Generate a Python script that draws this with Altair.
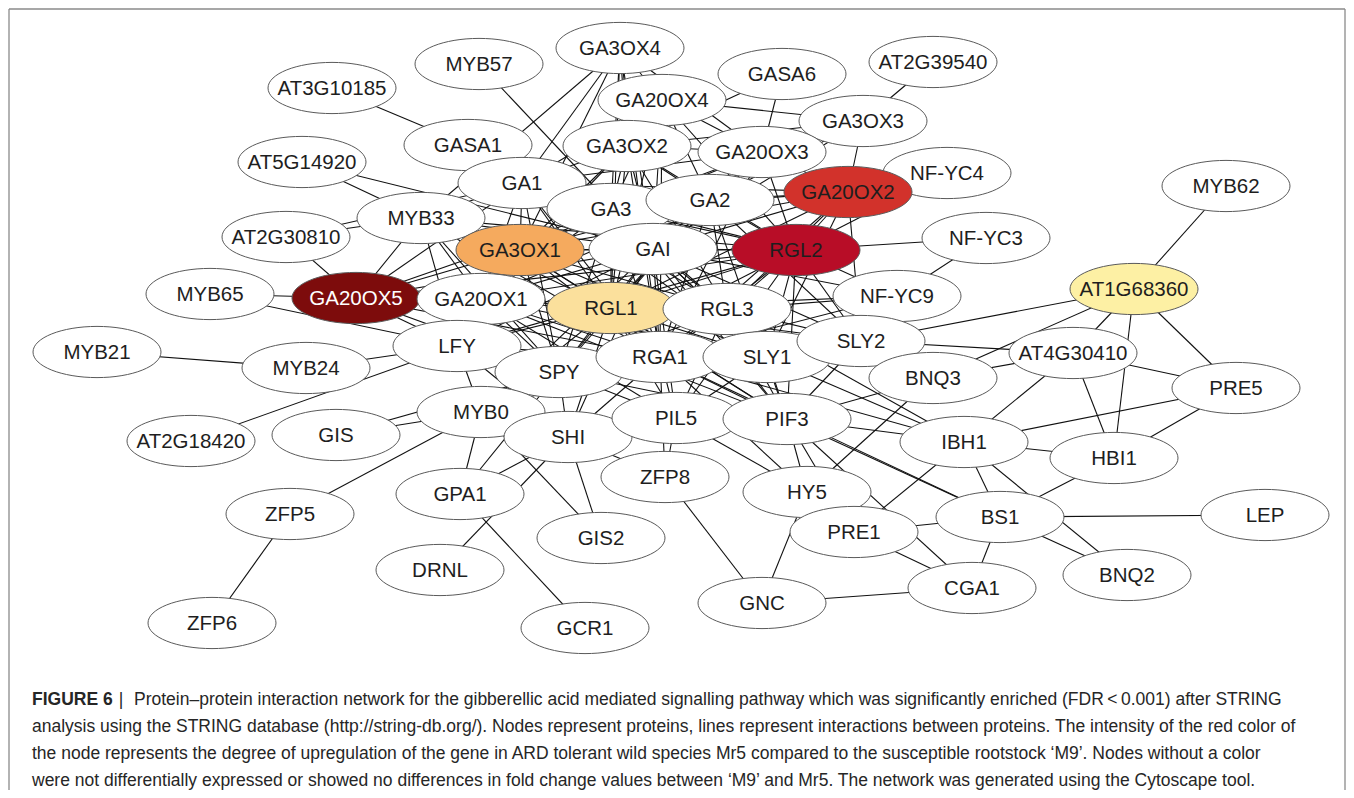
import altair as alt
import pandas as pd

# ---------------- data ----------------
NODE_NAMES = [
    "GA3OX4", "MYB57", "AT3G10185", "GASA6", "AT2G39540", "GA20OX4", "GA3OX3",
    "GASA1", "GA3OX2", "GA20OX3", "AT5G14920", "NF-YC4", "MYB62", "GA1", "GA3",
    "GA2", "GA20OX2", "MYB33", "AT2G30810", "GA3OX1", "GAI", "RGL2", "NF-YC3",
    "MYB65", "GA20OX5", "GA20OX1", "RGL1", "RGL3", "NF-YC9", "AT1G68360",
    "MYB21", "LFY", "MYB24", "SPY", "RGA1", "SLY1", "SLY2", "AT4G30410", "BNQ3",
    "PRE5", "AT2G18420", "GIS", "MYB0", "SHI", "PIL5", "PIF3", "IBH1", "HBI1",
    "GPA1", "ZFP8", "HY5", "ZFP5", "BS1", "LEP", "PRE1", "GIS2", "DRNL", "BNQ2",
    "CGA1", "GNC", "ZFP6", "GCR1",
]
NODE_X = [
    620, 479, 332, 782, 933, 662, 863,
    468, 627, 762, 302, 947, 1226, 522, 611,
    710, 848, 421, 286, 520, 653, 796, 986,
    210, 356, 481, 611, 727, 897, 1134,
    97, 457, 306, 559, 660, 767, 861, 1073, 933,
    1236, 191, 336, 481, 568, 676, 787, 964, 1114,
    460, 665, 807, 290, 1000, 1265, 854, 601, 440, 1127,
    972, 762, 212, 585,
]
NODE_Y = [
    48, 64, 88, 74, 62, 100, 121,
    145, 146, 152, 162, 173, 186, 183, 209,
    200, 192, 218, 237, 250, 249, 250, 238,
    294, 298, 299, 308, 309, 296, 289,
    352, 346, 368, 372, 357, 357, 341, 353, 378,
    388, 441, 435, 412, 437, 418, 419, 442, 458,
    494, 477, 492, 514, 517, 515, 532, 538, 570, 575,
    588, 603, 623, 628,
]
# up-regulated nodes (others are white)
HIGHLIGHT_FILL = {
    "GA20OX5": "#7d0c0c",
    "RGL2": "#b80d27",
    "GA20OX2": "#d2322b",
    "GA3OX1": "#f5aa5e",
    "RGL1": "#fbe09c",
    "AT1G68360": "#fdf0a4",
}
LIGHT_TEXT = ["GA20OX5"]

# interactions (adjacency lists)
ADJ = {
    "AT3G10185": ["GASA1"],
    "MYB57": ["GAI"],
    "GASA1": ["GA1", "GA3"],
    "GA3OX4": ["GA1", "GA3OX1", "MYB33", "GA20OX4", "GA3OX2", "GA3", "GAI", "RGL1", "GA20OX3", "RGA1"],
    "GA20OX4": ["GA3OX3", "GA20OX3", "GA3OX2", "GA1", "GA3", "GA2", "GAI", "RGL2", "RGL1", "RGA1"],
    "GASA6": ["GA20OX3", "GA3OX2"],
    "AT2G39540": ["GA3OX3"],
    "GA3OX3": ["GA20OX2", "GA20OX3", "GA3OX2", "GA2", "GAI"],
    "GA3OX2": ["GA1", "GA3", "GA2", "GA20OX3", "GAI", "RGL1", "GA3OX1", "GA20OX1", "RGL2", "RGA1", "RGL3"],
    "GA20OX3": ["GA2", "GA3", "GA1", "GA20OX2", "RGL2", "GAI", "RGL1", "GA3OX1", "RGA1"],
    "AT5G14920": ["MYB33", "GAI"],
    "AT2G30810": ["MYB33", "GA1", "GA20OX5"],
    "MYB65": ["GA20OX5", "LFY"],
    "MYB33": ["GA1", "GA3OX1", "GA20OX5", "GAI", "RGL1", "RGA1", "GA20OX1", "LFY", "RGL2", "SPY"],
    "GA20OX5": ["GA3OX1", "GA1", "GA20OX1", "RGL1", "GAI", "RGA1", "RGL2", "RGL3", "GA3", "LFY", "SPY"],
    "GA1": ["GA3", "GA2", "GAI", "GA3OX1", "RGL1", "RGL2", "RGL3", "RGA1", "GA20OX1", "GA20OX2", "SLY1", "SPY"],
    "GA3": ["GA2", "GAI", "GA3OX1", "RGL1", "RGL2", "RGL3", "RGA1", "GA20OX1", "GA20OX2", "SLY1", "SPY", "PIF3"],
    "GA2": ["GAI", "GA3OX1", "RGL1", "RGL2", "RGL3", "RGA1", "GA20OX2", "GA20OX1", "SLY2", "SPY", "PIF3"],
    "GA20OX2": ["RGL2", "GAI", "RGL1", "RGL3", "RGA1", "GA3OX1", "NF-YC4", "SLY1", "SLY2"],
    "NF-YC4": ["RGL2"],
    "NF-YC3": ["RGL2", "NF-YC9"],
    "NF-YC9": ["RGL2", "GAI", "RGL3", "RGA1", "RGL1"],
    "GA3OX1": ["GAI", "RGL1", "RGL2", "RGL3", "RGA1", "GA20OX1", "SLY1", "SPY", "LFY", "PIF3"],
    "GAI": ["RGL1", "RGL2", "RGL3", "RGA1", "GA20OX1", "SLY1", "SLY2", "SPY", "PIL5", "PIF3", "LFY", "SHI", "MYB0"],
    "RGL2": ["RGL1", "RGL3", "RGA1", "SLY1", "SLY2", "SPY", "PIL5", "PIF3", "GA20OX1", "LFY"],
    "GA20OX1": ["RGL1", "RGL3", "RGA1", "SLY1", "SPY", "LFY", "PIF3", "PIL5"],
    "RGL1": ["RGL3", "RGA1", "SLY1", "SLY2", "SPY", "PIL5", "PIF3", "LFY", "MYB0", "SHI"],
    "RGL3": ["RGA1", "SLY1", "SLY2", "SPY", "PIL5", "PIF3", "IBH1"],
    "RGA1": ["SLY1", "SLY2", "SPY", "PIL5", "PIF3", "IBH1", "SHI", "ZFP8", "LFY", "MYB0", "BS1", "HY5"],
    "SLY1": ["SLY2", "SPY", "PIF3", "PIL5", "IBH1"],
    "SLY2": ["AT1G68360", "AT4G30410", "PIF3"],
    "MYB21": ["MYB24"],
    "MYB24": ["LFY"],
    "AT2G18420": ["LFY"],
    "LFY": ["MYB0", "SHI", "SPY"],
    "GIS": ["MYB0", "SPY"],
    "MYB0": ["ZFP5", "GPA1", "GIS2", "SHI", "SPY"],
    "SPY": ["SHI", "PIL5", "PIF3", "GPA1"],
    "SHI": ["GIS2", "GPA1", "DRNL", "PIL5", "ZFP8"],
    "GPA1": ["GCR1"],
    "ZFP5": ["ZFP6"],
    "ZFP8": ["GNC", "PIL5"],
    "PIL5": ["PIF3", "HY5"],
    "PIF3": ["IBH1", "BS1", "HY5", "CGA1", "BNQ3", "PRE1"],
    "HY5": ["GNC", "BNQ3"],
    "GNC": ["CGA1"],
    "PRE1": ["BS1", "IBH1", "CGA1"],
    "CGA1": ["BS1"],
    "BS1": ["LEP", "BNQ2", "HBI1", "IBH1"],
    "IBH1": ["HBI1", "PRE5", "AT4G30410", "BNQ2"],
    "HBI1": ["PRE5", "AT4G30410", "AT1G68360"],
    "PRE5": ["AT4G30410", "AT1G68360"],
    "AT4G30410": ["BNQ3", "AT1G68360"],
    "AT1G68360": ["MYB62", "BNQ3"],
}

CAPTION_LABEL = "FIGURE 6"
CAPTION_LINES = [
    "Protein\u2013protein interaction network for the gibberellic acid mediated signalling pathway which was significantly enriched (FDR\u2009<\u20090.001) after STRING",
    "analysis using the STRING database (http://string-db.org/). Nodes represent proteins, lines represent interactions between proteins. The intensity of the red color of",
    "the node represents the degree of upregulation of the gene in ARD tolerant wild species Mr5 compared to the susceptible rootstock \u2018M9\u2019. Nodes without a color",
    "were not differentially expressed or showed no differences in fold change values between \u2018M9\u2019 and Mr5. The network was generated using the Cytoscape tool.",
]

# ---------------- tables ----------------
pos = {n: (x, y) for n, x, y in zip(NODE_NAMES, NODE_X, NODE_Y)}
nodes = pd.DataFrame({
    "name": NODE_NAMES,
    "x": NODE_X,
    "y": NODE_Y,
    "fill": [HIGHLIGHT_FILL.get(n, "#ffffff") for n in NODE_NAMES],
    "tcolor": ["#ffffff" if n in LIGHT_TEXT else "#1e1e1e" for n in NODE_NAMES],
})
edge_rows = []
for a, nbrs in ADJ.items():
    for b in nbrs:
        edge_rows.append({"x": pos[a][0], "y": pos[a][1], "x2": pos[b][0], "y2": pos[b][1]})
edges = pd.DataFrame(edge_rows)

W, H = 1338, 782
XS = alt.Scale(domain=[8, 8 + W], nice=False, zero=False)
YS = alt.Scale(domain=[8, 8 + H], nice=False, zero=False, reverse=True)


def X(f):
    return alt.X(f, type="quantitative", scale=XS, axis=None)


def Y(f):
    return alt.Y(f, type="quantitative", scale=YS, axis=None)


edge_layer = alt.Chart(edges).mark_rule(color="#111111", strokeWidth=1.1).encode(
    x=X("x"), y=Y("y"), x2="x2", y2="y2"
)

frame = pd.DataFrame({
    "x": [9, 9, 1345], "y": [9, 9, 9], "x2": [1345, 9, 1345], "y2": [9, 790, 790]
})
frame_layer = alt.Chart(frame).mark_rule(color="#8a8a8a", strokeWidth=1.3).encode(
    x=X("x"), y=Y("y"), x2="x2", y2="y2"
)

ELLIPSE = "M-1,0A1,0.4,0,1,1,1,0A1,0.4,0,1,1,-1,0Z"
node_layer = alt.Chart(nodes).mark_point(
    shape=ELLIPSE, size=128 * 128, filled=True, opacity=1,
    stroke="#5a5a5a", strokeWidth=1.0,
).encode(
    x=X("x"), y=Y("y"), fill=alt.Fill("fill:N", scale=None)
)

label_layer = alt.Chart(nodes).mark_text(
    font="Liberation Sans", fontSize=20.5, align="center", baseline="middle", dy=1
).encode(
    x=X("x"), y=Y("y"), text="name:N", color=alt.Color("tcolor:N", scale=None)
)

cap_y = [705, 732, 759, 786]
cap_df = pd.DataFrame({
    "x": [134, 32, 32, 32],
    "y": cap_y,
    "text": CAPTION_LINES,
})
cap_layer = alt.Chart(cap_df).mark_text(
    font="Liberation Sans", fontSize=17.5, align="left", baseline="alphabetic", color="#262626"
).encode(x=X("x"), y=Y("y"), text="text:N")

lab_df = pd.DataFrame({"x": [32], "y": [cap_y[0]], "text": [CAPTION_LABEL]})
lab_layer = alt.Chart(lab_df).mark_text(
    font="Liberation Sans", fontSize=17.5, fontWeight="bold", align="left",
    baseline="alphabetic", color="#262626"
).encode(x=X("x"), y=Y("y"), text="text:N")

bar_df = pd.DataFrame({"x": [121], "y": [cap_y[0]], "text": ["|"]})
bar_layer = alt.Chart(bar_df).mark_text(
    font="Liberation Sans", fontSize=17.5, align="center",
    baseline="alphabetic", color="#262626"
).encode(x=X("x"), y=Y("y"), text="text:N")

chart = alt.layer(
    edge_layer, frame_layer, node_layer, label_layer, lab_layer, bar_layer, cap_layer
).properties(
    width=W, height=H, autosize="none", padding=0
).configure_view(stroke=None)

chart.save("out.html", embed_options={"renderer": "svg", "actions": False})
